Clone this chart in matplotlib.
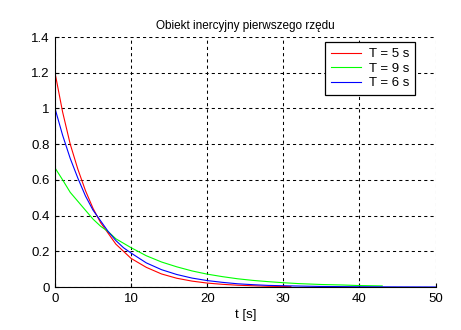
import matplotlib
matplotlib.use("Agg")
import matplotlib.pyplot as plt

plt.rcParams['font.family'] = ['Liberation Sans', 'DejaVu Sans']

# values
t_red = [0, 1, 2, 3, 4, 5, 6, 7, 8, 9, 10, 12, 14, 16, 18, 20, 22, 24, 26, 28, 31]
y_red = [1.2, 0.98, 0.80, 0.66, 0.54, 0.44, 0.36, 0.30, 0.24, 0.20, 0.16, 0.11,
         0.073, 0.049, 0.033, 0.022, 0.015, 0.010, 0.007, 0.004, 0.002]

t_green = [0, 1, 2, 3, 4, 5, 6, 7, 8, 9, 10, 12, 14, 16, 18, 20, 22, 24, 26, 28,
           30, 32, 35, 38, 40, 43]
y_green = [0.667, 0.60, 0.53, 0.48, 0.43, 0.38, 0.34, 0.31, 0.27, 0.245, 0.22,
           0.175, 0.14, 0.113, 0.09, 0.072, 0.058, 0.046, 0.037, 0.03, 0.024,
           0.019, 0.014, 0.011, 0.008, 0.006]

t_blue = [0, 1, 2, 3, 4, 5, 6, 7, 8, 9, 10, 12, 14, 16, 18, 20, 22, 24, 26, 28,
          30, 35, 40, 45, 50]
y_blue = [1.0, 0.85, 0.72, 0.61, 0.51, 0.43, 0.37, 0.31, 0.26, 0.22, 0.19, 0.135,
          0.097, 0.07, 0.05, 0.036, 0.026, 0.018, 0.013, 0.009, 0.007, 0.003,
          0.0013, 0.0006, 0.0002]

labels = ['T = 5 s', 'T = 9 s', 'T = 6 s']
colors = ['#ff0000', '#00ff00', '#0000ff']

fig = plt.figure(figsize=(4.61, 3.30), dpi=100)
ax = fig.add_axes([55 / 461, 43 / 330, 380.5 / 461, 250 / 330])

for (t, y), lab, c in zip([(t_red, y_red), (t_green, y_green), (t_blue, y_blue)], labels, colors):
    ax.plot(t, y, color=c, lw=0.8, label=lab)

ax.set_xlim(0, 50)
ax.set_ylim(0, 1.4)
ax.set_xticks([0, 10, 20, 30, 40, 50])
ax.set_yticks([0, 0.2, 0.4, 0.6, 0.8, 1.0, 1.2, 1.4])
ax.set_yticklabels(['0', '0.2', '0.4', '0.6', '0.8', '1', '1.2', '1.4'])
ax.grid(True, color='black', linestyle=(0, (3, 3)), linewidth=0.75)
ax.spines['top'].set_visible(False)
ax.spines['right'].set_visible(False)
ax.tick_params(direction='in', length=3, labelsize=9.5, pad=4)

ax.set_title('Obiekt inercyjny pierwszego rzędu', fontsize=8.5, pad=6)
ax.set_xlabel('t [s]', fontsize=9.5, labelpad=3)

leg = ax.legend(loc='upper right', bbox_to_anchor=(0.947, 0.98), fontsize=9.5,
                fancybox=False, framealpha=1, edgecolor='black',
                handlelength=2.3, handletextpad=0.6, borderpad=0.45,
                labelspacing=0.18, borderaxespad=0)
leg.get_frame().set_linewidth(0.9)

fig.savefig('out.png', dpi=100)
